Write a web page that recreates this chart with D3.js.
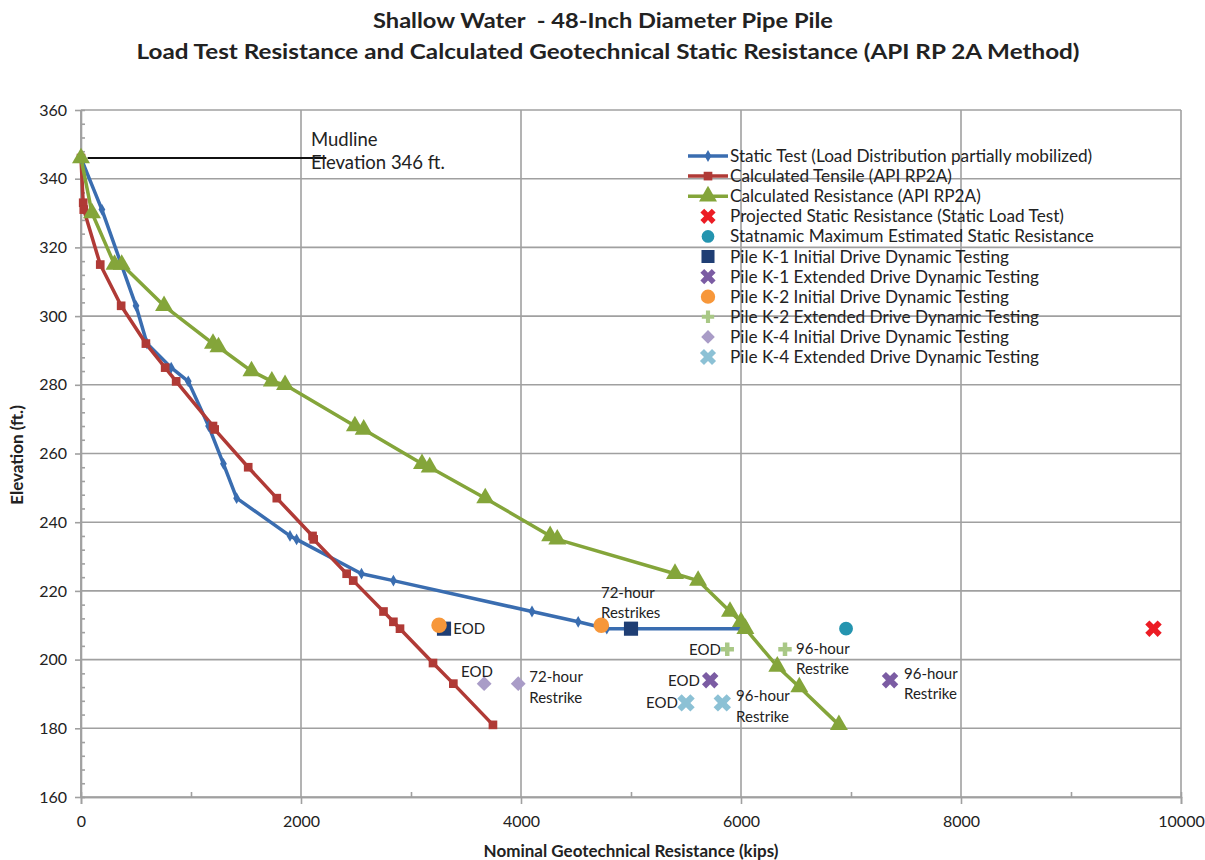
<!DOCTYPE html>
<html>
<head>
<meta charset="utf-8">
<script src="https://cdn.jsdelivr.net/npm/d3@7"></script>
<style>
  body { margin: 0; background: #fff; }
  text { font-family: Lato, "Open Sans", sans-serif; fill: #222; white-space: pre; }
</style>
</head>
<body>
<svg id="chart" width="1205" height="860"></svg>
<script>
// series values: [resistance kips, elevation ft]
var staticTest = [[0,346],[190,331],[500,303],[600,292],[820,285],[975,281],[1160,268],[1295,257],[1415,247],
  [1900,236],[1960,235],[2550,225],[2840,223],[4100,214],[4520,211],[4780,209],[6000,209]];
var calcTensile = [[0,346],[20,333],[25,331],[175,315],[365,303],[590,292],[765,285],[865,281],[1200,268],[1215,267],
  [1520,256],[1780,247],[2105,236],[2115,235],[2415,225],[2475,223],[2750,214],[2840,211],[2900,209],[3200,199],[3385,193],[3745,181]];
var calcResist = [[0,346],[100,330],[305,315],[370,315],[755,303],[1200,292],[1250,291],[1550,284],[1735,281],[1855,280],
  [2490,268],[2570,267],[3100,257],[3170,256],[3675,247],[4265,236],[4330,235],[5400,225],[5610,223],[5900,214],
  [6000,211],[6040,209],[6330,198],[6530,192],[6890,181]];

var projStatic = [[9750,209]];
var statnamic = [[6955,209]];
var k1Initial = [[3300,209],[5000,209]];
var k1Extended = [[5720,194],[7355,194]];
var k2Initial = [[3255,210],[4730,210]];
var k2Extended = [[5875,203],[6400,203]];
var k4Initial = [[3665,193],[3975,193]];
var k4Extended = [[5500,187.4],[5830,187.4]];

var mudline = [[60,346],[2230,346]];

var xTicks = [0,2000,4000,6000,8000,10000];
var yTicks = [160,180,200,220,240,260,280,300,320,340,360];

// annotation texts [label, x, y, anchor]
var notes = [
  ["EOD",3385,209,"start"],
  ["72-hour",4727,219.4,"start"],["Restrikes",4727,213.6,"start"],
  ["EOD",3455,196.4,"start"],
  ["72-hour",4075,195,"start"],["Restrike",4075,188.8,"start"],
  ["EOD",5818,202.8,"end"],
  ["96-hour",6500,203.1,"start"],["Restrike",6500,197.3,"start"],
  ["EOD",5627,193.8,"end"],
  ["EOD",5427,187.4,"end"],
  ["96-hour",5955,189.4,"start"],["Restrike",5955,183.3,"start"],
  ["96-hour",7482,195.8,"start"],["Restrike",7482,190,"start"]
];
var mudNotes = [["Mudline",2091,351.3],["Elevation 346 ft.",2091,344.6]];

var svg = d3.select("#chart");
var x = d3.scaleLinear().domain([0,10000]).range([81,1181]);
var y = d3.scaleLinear().domain([160,360]).range([797,110]);
var gridCol = "#a0a0a0";

// gridlines
svg.append("g").selectAll("line").data(yTicks).enter().append("line")
  .attr("x1", x(0)).attr("x2", x(10000)).attr("y1", d => y(d)).attr("y2", d => y(d))
  .attr("stroke", gridCol).attr("stroke-width", 1.6);
svg.append("g").selectAll("line").data(xTicks).enter().append("line")
  .attr("y1", y(160)).attr("y2", y(360)).attr("x1", d => x(d)).attr("x2", d => x(d))
  .attr("stroke", gridCol).attr("stroke-width", 1.6);

// axes
var yAxis = svg.append("g").attr("transform", "translate(" + x(0) + ",0)")
  .call(d3.axisLeft(y).tickValues(yTicks).tickSize(6).tickPadding(8).tickFormat(d3.format("d")));
var yMinor = svg.append("g").attr("transform", "translate(" + x(0) + ",0)")
  .call(d3.axisLeft(y).tickValues(d3.range(160,361,4).filter(v => v % 20 != 0)).tickSize(-4).tickFormat(""));
var xAxis = svg.append("g").attr("transform", "translate(0," + y(160) + ")")
  .call(d3.axisBottom(x).tickValues(xTicks).tickSize(7).tickPadding(12).tickFormat(d3.format("d")));
var xMinor = svg.append("g").attr("transform", "translate(0," + y(160) + ")")
  .call(d3.axisBottom(x).tickValues([1000,3000,5000,7000,9000]).tickSize(-5).tickFormat(""));
[yAxis, yMinor, xAxis, xMinor].forEach(function(g){
  g.selectAll("path").attr("stroke", gridCol).attr("stroke-width", 1.6);
  g.selectAll("line").attr("stroke", gridCol).attr("stroke-width", 1.6);
  g.selectAll("text").attr("font-size", 16).attr("font-family", "Lato, sans-serif").attr("fill", "#222");
});
yAxis.select(".domain").remove();
svg.append("line").attr("x1", x(0)).attr("x2", x(0)).attr("y1", y(160)).attr("y2", y(360))
  .attr("stroke", gridCol).attr("stroke-width", 1.6);

// mudline
svg.append("path").datum(mudline).attr("d", d3.line().x(d => x(d[0])).y(d => y(d[1])))
  .attr("stroke", "#111").attr("stroke-width", 2).attr("fill", "none");
svg.append("g").selectAll("text").data(mudNotes).enter().append("text")
  .attr("x", d => x(d[1])).attr("y", d => y(d[2])).attr("dy", "0.35em")
  .attr("font-size", 18.5).text(d => d[0]);

var line = d3.line().x(d => x(d[0])).y(d => y(d[1]));

var series = [
  {name: "Static Test (Load Distribution partially mobilized)", data: staticTest, color: "#3a6db0", sym: d3.symbolDiamond, size: 40, rot: 0},
  {name: "Calculated Tensile (API RP2A)", data: calcTensile, color: "#b03a36", sym: d3.symbolSquare, size: 75, rot: 0},
  {name: "Calculated Resistance (API RP2A)", data: calcResist, color: "#84a53a", sym: d3.symbolTriangle, size: 140, rot: 0}
];

series.forEach(function(s){
  svg.append("path").datum(s.data).attr("d", line)
    .attr("fill", "none").attr("stroke", s.color).attr("stroke-width", 3.5).attr("stroke-linejoin", "round");
});
series.forEach(function(s){
  svg.append("g").selectAll("path").data(s.data).enter().append("path")
    .attr("d", d3.symbol().type(s.sym).size(s.size))
    .attr("transform", d => "translate(" + x(d[0]) + "," + y(d[1]) + ")")
    .attr("fill", s.color);
});

// point series
var points = [
  {name: "Projected Static Resistance (Static Load Test)", data: projStatic, color: "#ec1c24", sym: d3.symbolCross, size: 170, rot: 45},
  {name: "Statnamic Maximum Estimated Static Resistance", data: statnamic, color: "#2494af", sym: d3.symbolCircle, size: 150, rot: 0},
  {name: "Pile K-1 Initial Drive Dynamic Testing", data: k1Initial, color: "#1f3e74", sym: d3.symbolSquare, size: 200, rot: 0},
  {name: "Pile K-1 Extended Drive Dynamic Testing", data: k1Extended, color: "#7b5ca3", sym: d3.symbolCross, size: 170, rot: 45},
  {name: "Pile K-2 Initial Drive Dynamic Testing", data: k2Initial, color: "#f7973a", sym: d3.symbolCircle, size: 190, rot: 0},
  {name: "Pile K-2 Extended Drive Dynamic Testing", data: k2Extended, color: "#a9c886", sym: d3.symbolCross, size: 100, rot: 0},
  {name: "Pile K-4 Initial Drive Dynamic Testing", data: k4Initial, color: "#a99cc7", sym: d3.symbolSquare, size: 110, rot: 45},
  {name: "Pile K-4 Extended Drive Dynamic Testing", data: k4Extended, color: "#8cc1d5", sym: d3.symbolCross, size: 190, rot: 45}
];
points.forEach(function(p){
  svg.append("g").selectAll("path").data(p.data).enter().append("path")
    .attr("d", d3.symbol().type(p.sym).size(p.size))
    .attr("transform", d => "translate(" + x(d[0]) + "," + y(d[1]) + ") rotate(" + p.rot + ")")
    .attr("fill", p.color);
});

// annotations
svg.append("g").selectAll("text").data(notes).enter().append("text")
  .attr("x", d => x(d[1])).attr("y", d => y(d[2])).attr("dy", "0.35em")
  .attr("text-anchor", d => d[3]).attr("font-size", 15).text(d => d[0]);

// legend
var lg = svg.append("g").attr("transform", "translate(688,156)");
var rowH = 20.1;
series.forEach(function(s, i){
  var g = lg.append("g").attr("transform", "translate(0," + i * rowH + ")");
  g.append("line").attr("x1", 0).attr("x2", 40).attr("stroke", s.color).attr("stroke-width", 3.5);
  g.append("path").attr("d", d3.symbol().type(s.sym).size(s.size)).attr("transform", "translate(20,0)").attr("fill", s.color);
  g.append("text").attr("x", 42).attr("dy", "0.35em").attr("font-size", 17.2).text(s.name);
});
points.forEach(function(p, j){
  var i = j + series.length;
  var g = lg.append("g").attr("transform", "translate(0," + i * rowH + ")");
  g.append("path").attr("d", d3.symbol().type(p.sym).size(p.size * 0.85))
    .attr("transform", "translate(20,0) rotate(" + p.rot + ")").attr("fill", p.color);
  g.append("text").attr("x", 42).attr("dy", "0.35em").attr("font-size", 17.2).text(p.name);
});

// titles
svg.append("text").attr("x", 603).attr("y", 28).attr("text-anchor", "middle")
  .attr("font-size", 21).attr("font-weight", "bold").attr("textLength", 460).attr("lengthAdjust", "spacingAndGlyphs")
  .text("Shallow Water  - 48-Inch Diameter Pipe Pile");
svg.append("text").attr("x", 608).attr("y", 59).attr("text-anchor", "middle")
  .attr("font-size", 21).attr("font-weight", "bold").attr("textLength", 943).attr("lengthAdjust", "spacingAndGlyphs")
  .text("Load Test Resistance and Calculated Geotechnical Static Resistance (API RP 2A Method)");
svg.append("text").attr("x", 631).attr("y", 857).attr("text-anchor", "middle")
  .attr("font-size", 17).attr("font-weight", "bold").text("Nominal Geotechnical Resistance (kips)");
svg.append("text").attr("transform", "translate(23,455) rotate(-90)").attr("text-anchor", "middle")
  .attr("font-size", 17).attr("font-weight", "bold").text("Elevation (ft.)");
</script>
</body>
</html>
